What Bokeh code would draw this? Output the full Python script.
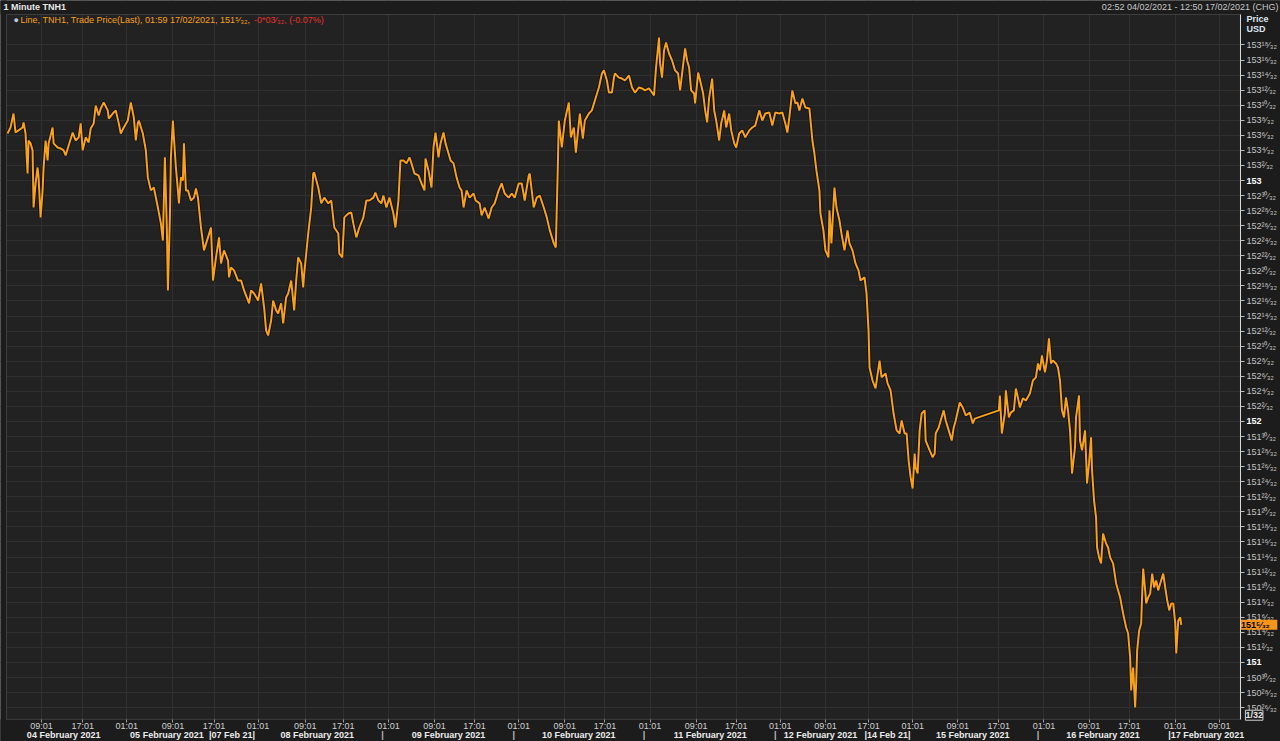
from bokeh.plotting import figure
from bokeh.models import Range1d, FixedTicker, Label, BoxAnnotation
from bokeh.core.properties import value
from bokeh.embed import file_html
from bokeh.resources import INLINE

# ---------------- DATA (x = trading-time bar index, ~11 min per bar; y = price in USD) -------------
bars_a = [0, 3, 6, 8, 11, 15, 16, 18, 20, 21,
          23, 25, 26, 28, 30, 31, 33, 35, 36, 38,
          40, 41, 45, 46, 50, 53, 56, 58, 61, 65,
          68, 71, 73, 75, 78, 81, 83, 86, 88, 91,
          93, 96, 100, 101, 105, 108, 111, 113, 116, 120,
          123, 126, 128, 130, 131, 135, 138, 140, 143, 146,
          150, 153, 155, 157, 159, 160, 162, 163, 165, 166,
          168, 170, 171, 173, 175, 176, 178, 180, 183, 186,
          188, 190, 193, 196, 200, 203, 205, 208, 211, 213,
          216, 220, 221, 223, 226, 230, 233, 236, 241, 243,
          246, 250, 253, 256, 258, 260, 263, 265, 268, 270,
          273, 275, 278, 280, 283, 286, 288, 290, 293, 295,
          296, 300, 303]
prices_a = [153.195, 153.220, 153.278, 153.199, 153.208, 153.220, 153.241, 153.195, 153.029, 153.166,
            153.154, 153.125, 152.888, 152.988, 153.054, 153.013, 152.847, 152.959, 153.054, 153.166,
            153.083, 153.154, 153.220, 153.154, 153.137, 153.133, 153.125, 153.104, 153.145, 153.199,
            153.166, 153.179, 153.237, 153.125, 153.179, 153.158, 153.216, 153.237, 153.311, 153.270,
            153.299, 153.324, 153.291, 153.257, 153.278, 153.291, 153.237, 153.195, 153.220, 153.249,
            153.324, 153.262, 153.166, 153.237, 153.249, 153.195, 153.125, 153.013, 152.959, 152.971,
            152.888, 152.822, 152.751, 153.096, 152.793, 152.544, 152.847, 153.096, 153.249, 153.179,
            153.054, 152.959, 152.905, 153.013, 153.000, 153.154, 152.959, 152.959, 152.917, 152.929,
            152.967, 152.929, 152.805, 152.710, 152.764, 152.805, 152.585, 152.681, 152.764, 152.656,
            152.710, 152.668, 152.598, 152.639, 152.627, 152.585, 152.585, 152.544, 152.490, 152.544,
            152.531, 152.502, 152.573, 152.473, 152.378, 152.357, 152.419, 152.502, 152.461, 152.448,
            152.490, 152.407, 152.515, 152.531, 152.585, 152.461, 152.585, 152.681, 152.656, 152.556,
            152.614, 152.780, 152.888]

bars_b = [305, 306, 310, 313, 316, 320, 323, 326, 330, 331,
          334, 336, 340, 343, 345, 348, 351, 355, 358, 361,
          365, 367, 370, 373, 375, 378, 381, 385, 387, 390,
          392, 395, 398, 401, 403, 406, 410, 413, 416, 417,
          420, 423, 425, 427, 430, 432, 435, 437, 440, 442,
          445, 448, 451, 453, 455, 458, 461, 465, 467, 471,
          473, 476, 480, 483, 486, 490, 493, 496, 500, 503,
          506, 510, 513, 516, 520, 521, 525, 528, 531, 535,
          538, 541, 545, 547, 549, 550, 553, 556, 560, 562,
          565, 567, 571, 574, 576, 580, 583, 586, 590, 593,
          595, 598, 600]
prices_b = [153.029, 153.033, 152.971, 152.905, 152.929, 152.905, 152.917, 152.805, 152.780, 152.697,
            152.681, 152.847, 152.863, 152.867, 152.822, 152.764, 152.805, 152.847, 152.917, 152.917,
            152.929, 152.950, 152.917, 152.905, 152.938, 152.888, 152.929, 152.863, 152.805, 152.917,
            153.083, 153.083, 153.071, 153.096, 153.071, 153.029, 153.021, 152.988, 152.959, 153.091,
            153.042, 152.971, 153.137, 153.199, 153.096, 153.154, 153.199, 153.154, 153.112, 153.083,
            153.071, 153.013, 152.971, 152.959, 152.888, 152.959, 152.929, 152.946, 152.917, 152.905,
            152.855, 152.888, 152.842, 152.888, 152.905, 152.959, 152.988, 152.946, 152.929, 152.946,
            152.929, 152.988, 152.988, 152.917, 153.021, 153.029, 152.888, 152.929, 152.938, 152.888,
            152.847, 152.793, 152.739, 152.722, 153.054, 153.249, 153.137, 153.249, 153.324, 153.179,
            153.220, 153.116, 153.278, 153.174, 153.249, 153.278, 153.291, 153.332, 153.386, 153.444,
            153.457, 153.415, 153.365]

bars_c = [603, 605, 606, 610, 613, 616, 620, 623, 626, 630,
          633, 636, 640, 643, 645, 647, 650, 651, 653, 655,
          657, 660, 663, 666, 669, 671, 673, 676, 678, 680,
          682, 685, 686, 689, 691, 694, 696, 698, 700, 703,
          705, 707, 710, 712, 715, 717, 720, 722, 725, 727,
          730, 733, 736, 740, 743, 746, 750, 753, 756, 760,
          763, 766, 770, 773, 776, 778, 780, 783, 786, 788,
          790, 793, 796, 800, 803, 805, 807, 810, 811, 814,
          816, 819, 820, 822, 825, 827, 830, 832, 835, 838,
          840, 843, 846, 849, 851, 855, 857, 859, 860, 863,
          866, 870, 872, 876, 878, 881, 884, 887, 890, 892,
          895, 897, 899, 901, 903, 905, 906, 908, 910, 912]
prices_c = [153.365, 153.427, 153.444, 153.427, 153.423, 153.415, 153.436, 153.386, 153.365, 153.386,
            153.382, 153.374, 153.382, 153.365, 153.353, 153.469, 153.593, 153.486, 153.427, 153.540,
            153.573, 153.527, 153.498, 153.457, 153.444, 153.374, 153.444, 153.548, 153.498, 153.469,
            153.374, 153.361, 153.320, 153.448, 153.415, 153.361, 153.291, 153.241, 153.344, 153.423,
            153.291, 153.249, 153.166, 153.237, 153.291, 153.220, 153.278, 153.208, 153.154, 153.137,
            153.195, 153.208, 153.179, 153.208, 153.220, 153.228, 153.291, 153.249, 153.278, 153.282,
            153.228, 153.282, 153.278, 153.282, 153.237, 153.199, 153.262, 153.374, 153.320, 153.324,
            153.291, 153.340, 153.303, 153.299, 153.166, 153.112, 153.042, 152.959, 152.863, 152.793,
            152.710, 152.681, 152.876, 152.739, 152.971, 152.888, 152.834, 152.780, 152.710, 152.793,
            152.739, 152.710, 152.656, 152.627, 152.585, 152.598, 152.531, 152.378, 152.224, 152.170,
            152.137, 152.253, 152.183, 152.199, 152.158, 152.129, 152.033, 151.963, 151.950, 152.004,
            151.950, 151.950, 151.838, 151.768, 151.722, 151.867, 151.809, 151.784, 151.963, 152.033]

bars_d = [915, 916, 920, 923, 925, 926, 929, 931, 934, 936,
          939, 942, 944, 946, 950, 953, 956, 960, 963, 965,
          989, 990, 992, 995, 996, 999, 1001, 1004, 1006, 1008,
          1010, 1013, 1016, 1020, 1023, 1026, 1028, 1030, 1032, 1035,
          1037, 1039, 1041, 1043, 1046, 1048, 1050, 1052, 1054, 1056,
          1058, 1060, 1062, 1065, 1066, 1069, 1070, 1072, 1075, 1077,
          1079, 1081, 1082, 1084, 1086, 1087, 1089, 1091, 1093, 1096,
          1098, 1100, 1103, 1106, 1108, 1110, 1113, 1116, 1118, 1120,
          1121, 1123, 1125, 1126, 1127, 1129, 1131, 1132, 1133, 1135,
          1136, 1138, 1140, 1142, 1144, 1146, 1148, 1150, 1153, 1155,
          1157, 1159, 1161, 1163, 1165, 1166, 1168, 1170, 1171]
prices_d = [152.046, 151.921, 151.880, 151.851, 151.867, 151.950, 151.975, 152.004, 152.046, 152.004,
            151.963, 151.921, 151.975, 152.004, 152.079, 152.058, 152.025, 152.037, 151.992, 152.012,
            152.046, 152.108, 151.950, 152.033, 152.129, 152.017, 152.037, 152.046, 152.137, 152.100,
            152.058, 152.096, 152.087, 152.116, 152.170, 152.183, 152.241, 152.212, 152.274, 152.204,
            152.253, 152.345, 152.241, 152.253, 152.241, 152.224, 152.170, 152.046, 152.017, 152.100,
            152.046, 151.963, 151.784, 151.892, 152.017, 152.108, 151.921, 151.880, 151.963, 151.743,
            151.826, 151.934, 151.797, 151.672, 151.602, 151.477, 151.436, 151.411, 151.535, 151.494,
            151.477, 151.436, 151.411, 151.328, 151.299, 151.270, 151.203, 151.145, 151.120, 151.021,
            150.884, 150.979, 150.813, 150.913, 151.050, 151.133, 151.162, 151.286, 151.390, 151.299,
            151.245, 151.270, 151.286, 151.369, 151.311, 151.340, 151.299, 151.328, 151.369, 151.311,
            151.257, 151.216, 151.245, 151.245, 151.162, 151.037, 151.174, 151.187, 151.15625]

# time-of-day ticks on the bottom axis
time_tick_bars = [34, 75, 119, 165, 206, 250, 297, 335, 380, 426, 466, 510, 556, 596,
                  641, 687, 727, 771, 816, 859, 903, 948, 989, 1034, 1079, 1119, 1165, 1209]
time_tick_labels = ["09:01", "17:01", "01:01"] * 9 + ["09:01"]

# date row
date_bars = [56, 159, 224, 309, 440, 570, 701, 811, 878, 963, 1093, 1196]
date_labels = ["04 February 2021", "05 February 2021", "|07 Feb 21|", "08 February 2021",
               "09 February 2021", "10 February 2021", "11 February 2021", "12 February 2021",
               "|14 Feb 21|", "15 February 2021", "16 February 2021", "|17 February 2021"]
separator_bars = [374, 505, 635, 766, 1028]

# price axis ticks, in 32nds of a point (150 26/32 ... 153 18/32, every 2/32)
y_tick_32nds = list(range(150 * 32 + 26, 153 * 32 + 19, 2))
last_price = 151.15625
last_price_label = "151⁵⁄₃₂"

# ---------------- LAYOUT / STYLE ----------------
X_START, X_PLOT_START, X_PLOT_END, X_END = -7, -1, 1230, 1270   # price scale right of X_PLOT_END
Y_START, Y_PLOT_START, Y_PLOT_END, Y_END = 150.672, 150.764, 153.689, 153.747
TIME_ROW_Y, DATE_ROW_Y = 150.735, 150.699                       # rows under the plot area
LABEL_X = 1236

ORANGE = "#f7a11c"
BOX_ORANGE = "#f7941d"
RED = "#e8322b"
PANEL = "#1c1c1c"
FONT = "Liberation Sans"

SUP = str.maketrans("0123456789", "⁰¹²³⁴⁵⁶⁷⁸⁹")


def frac_label(t32):
    whole, num = divmod(t32, 32)
    if num == 0:
        return str(whole)
    return f"{whole}{str(num).translate(SUP)}⁄₃₂"


bars = bars_a + bars_b + bars_c + bars_d
prices = prices_a + prices_b + prices_c + prices_d
assert len(bars) == len(prices), (len(bars), len(prices))

p = figure(width=1280, height=741, output_backend="svg", toolbar_location=None,
           x_range=Range1d(X_START, X_END), y_range=Range1d(Y_START, Y_END),
           y_axis_location="right",
           min_border_left=0, min_border_right=0, min_border_top=0, min_border_bottom=0,
           background_fill_color="#222222", border_fill_color=PANEL,
           outline_line_color=None)

# grids
y_ticks = [t / 32 for t in y_tick_32nds]
p.xgrid.ticker = FixedTicker(ticks=time_tick_bars)
p.ygrid.ticker = FixedTicker(ticks=y_ticks)
p.xgrid.grid_line_color = "#303030"
p.ygrid.grid_line_color = "#303030"


# header row, bottom rows, left margin and price-scale panel (over the grid, under the data)
def panel_box(**kw):
    p.add_layout(BoxAnnotation(fill_color=PANEL, fill_alpha=1, line_color=None, level="underlay", **kw))


panel_box(bottom=Y_PLOT_END, top=Y_END + 1, left=X_START - 10, right=X_END + 10)
panel_box(bottom=Y_START - 1, top=Y_PLOT_START, left=X_START - 10, right=X_END + 10)
panel_box(left=X_PLOT_END, right=X_END + 10, bottom=Y_START - 1, top=Y_END + 1)
panel_box(left=X_START - 10, right=X_PLOT_START, bottom=Y_START - 1, top=Y_END + 1)
# plot-area frame
p.add_layout(BoxAnnotation(left=X_PLOT_START, right=X_PLOT_END, bottom=Y_PLOT_START, top=Y_PLOT_END,
                           fill_alpha=0, line_color="#8c8c8c", line_width=1, level="underlay"))

# time axis: ticks at the bottom edge of the plot area
xa = p.xaxis[0]
xa.ticker = FixedTicker(ticks=time_tick_bars)
xa.fixed_location = Y_PLOT_START
xa.bounds = (X_PLOT_START, X_PLOT_END)
xa.axis_label = None
xa.major_label_overrides = {b: "" for b in time_tick_bars}
xa.major_label_text_font_size = "0px"
xa.axis_line_color = None
xa.major_tick_out = 3
xa.major_tick_in = 0
xa.minor_tick_out = 0
xa.minor_tick_in = 0
xa.major_tick_line_color = "#9a9a9a"
xa.major_label_standoff = 0
xa.axis_label_standoff = 0

# price axis: line + ticks at the right edge of the plot area
ya = p.yaxis[0]
ya.ticker = FixedTicker(ticks=y_ticks)
ya.fixed_location = X_PLOT_END
ya.bounds = (Y_PLOT_START, Y_PLOT_END)
ya.axis_label = None
ya.major_label_overrides = {t: "" for t in y_ticks}
ya.major_label_text_font_size = "0px"
ya.axis_line_color = "#d8d8d8"
ya.axis_line_width = 1
ya.major_tick_out = 4
ya.major_tick_in = 0
ya.minor_tick_out = 0
ya.minor_tick_in = 0
ya.major_tick_line_color = "#bdbdbd"
ya.major_label_standoff = 0
ya.axis_label_standoff = 0

# price line with dark edge
p.line(bars, prices, line_color="#0c0c0c", line_width=3.8, line_alpha=0.85)
p.line(bars, prices, line_color=ORANGE, line_width=2.0)

# price-scale labels
frac_ticks = [t for t in y_tick_32nds if t % 32]
int_ticks = [t for t in y_tick_32nds if t % 32 == 0]
p.text(x=[LABEL_X] * len(frac_ticks), y=[t / 32 for t in frac_ticks],
       text=[frac_label(t) for t in frac_ticks], text_font=value(FONT), text_font_size="9px",
       text_color="#c4c4c4", text_baseline="middle", text_align="left")
p.text(x=[LABEL_X] * len(int_ticks), y=[t / 32 for t in int_ticks],
       text=[frac_label(t) for t in int_ticks], text_font=value(FONT), text_font_size="9px",
       text_font_style="bold", text_color="#ffffff", text_baseline="middle", text_align="left")

# time-of-day labels and date row
p.text(x=time_tick_bars, y=[TIME_ROW_Y] * len(time_tick_bars), text=time_tick_labels,
       text_font=value(FONT), text_font_size="9px", text_color="#d0d0d0",
       text_baseline="middle", text_align="center")
p.text(x=date_bars, y=[DATE_ROW_Y] * len(date_bars), text=date_labels,
       text_font=value(FONT), text_font_size="9px", text_font_style="bold", text_color="#ececec",
       text_baseline="middle", text_align="center")
p.text(x=separator_bars, y=[DATE_ROW_Y] * len(separator_bars), text=["|"] * len(separator_bars),
       text_font=value(FONT), text_font_size="9px", text_font_style="bold", text_color="#bdbdbd",
       text_baseline="middle", text_align="center")


def lab(x, y, text, **kw):
    opts = dict(x=x, y=y, text=text, text_font=FONT, text_font_size="9px",
                text_baseline="middle", text_align="left", text_color="#d0d0d0")
    opts.update(kw)
    p.add_layout(Label(**opts))


# axis header
lab(LABEL_X, 153.672, "Price", text_font_style="bold", text_color="#d9e4ee")
lab(LABEL_X, 153.627, "USD", text_font_style="bold", text_color="#d9e4ee")

# last price tag
lab(X_PLOT_END + 0.5, last_price, last_price_label + "\u00a0" * 3, text_font_style="bold",
    text_color="#000000", background_fill_color=BOX_ORANGE, background_fill_alpha=1.0)

# tick size box
lab(LABEL_X - 1, 150.781, "1/32", text_font_style="bold", text_color="#e6e6e6",
    border_line_color="#d0d0d0", border_line_width=1, background_fill_color=PANEL,
    background_fill_alpha=1.0)

# title row
lab(X_START + 3, 153.722, "1 Minute TNH1", text_font_style="bold", text_color="#e8e8e8")
lab(X_END - 2, 153.722, "02:52 04/02/2021 - 12:50 17/02/2021 (CHG)", text_align="right",
    text_color="#c8c8c8")

# legend line inside the plot
lab(6, 153.668, "●", text_color="#b9c6d3")
lab(13, 153.668, "Line, TNH1, Trade Price(Last), 01:59 17/02/2021, " + last_price_label + ", ",
    text_color=ORANGE)
lab(246, 153.668, "-0*03⁄₃₂, (-0.07%)", text_color=RED)

open("out.html", "w").write(file_html(p, INLINE))
